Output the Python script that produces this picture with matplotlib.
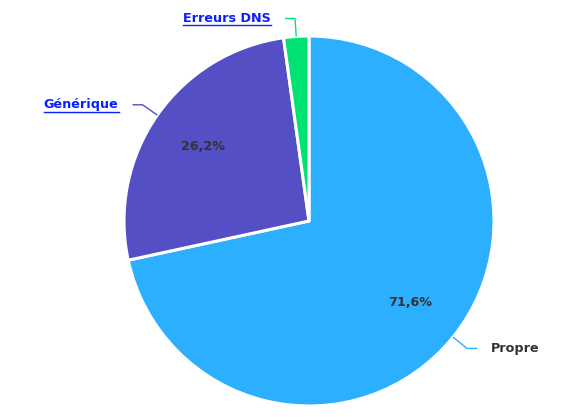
import numpy as np
import matplotlib
matplotlib.use("Agg")
import matplotlib.pyplot as plt

categories = ["Propre", "Générique", "Erreurs DNS"]
values = [71.6, 26.2, 2.2]
colors = ["#2caffe", "#544fc5", "#00e272"]
pct_labels = ["71,6%", "26,2%", None]
link_style = [False, True, True]

W, H = 586, 417
fig = plt.figure(figsize=(W / 100, H / 100), dpi=100)
ax = fig.add_axes([0, 0, 1, 1])
ax.set_xlim(0, W)
ax.set_ylim(0, H)
ax.set_aspect("equal")
ax.axis("off")

cx, cy, R = 309, 417 - 221, 185
wedges, _ = ax.pie(values, colors=colors, startangle=90, counterclock=False,
                   center=(cx, cy), radius=R, frame=True,
                   wedgeprops=dict(edgecolor="white", linewidth=2.2,
                                   joinstyle="round"))
ax.set_xlim(0, W)
ax.set_ylim(0, H)
ax.axis("off")

fig.canvas.draw()
renderer = fig.canvas.get_renderer()
for w, lab, col, pct, link in zip(wedges, categories, colors, pct_labels, link_style):
    mid = np.deg2rad((w.theta1 + w.theta2) / 2)
    ex, ey = cx + R * np.cos(mid), cy + R * np.sin(mid)
    kx, ky = cx + (R + 18) * np.cos(mid), cy + (R + 18) * np.sin(mid)
    side = 1 if np.cos(mid) >= 0 else -1
    hx = kx + side * 10
    ax.plot([ex, kx, hx], [ey, ky, ky], color=col, lw=1, solid_capstyle="butt")
    tx = hx + side * 14
    tcol = "#0a1fff" if link else "#333333"
    t = ax.text(tx, ky, lab, ha="left" if side > 0 else "right", va="center",
                fontsize=9.2, fontweight="bold", color=tcol, family="DejaVu Sans")
    if link:
        bb = t.get_window_extent(renderer).transformed(ax.transData.inverted())
        ax.plot([bb.x0, bb.x1], [bb.y0 - 0.5, bb.y0 - 0.5], color=tcol, lw=1)
    if pct:
        px, py = cx + 0.7 * R * np.cos(mid), cy + 0.7 * R * np.sin(mid)
        ax.text(px, py, pct, ha="center", va="center", fontsize=9.2,
                fontweight="bold", color="#333333")

fig.savefig("out.png", dpi=100)
